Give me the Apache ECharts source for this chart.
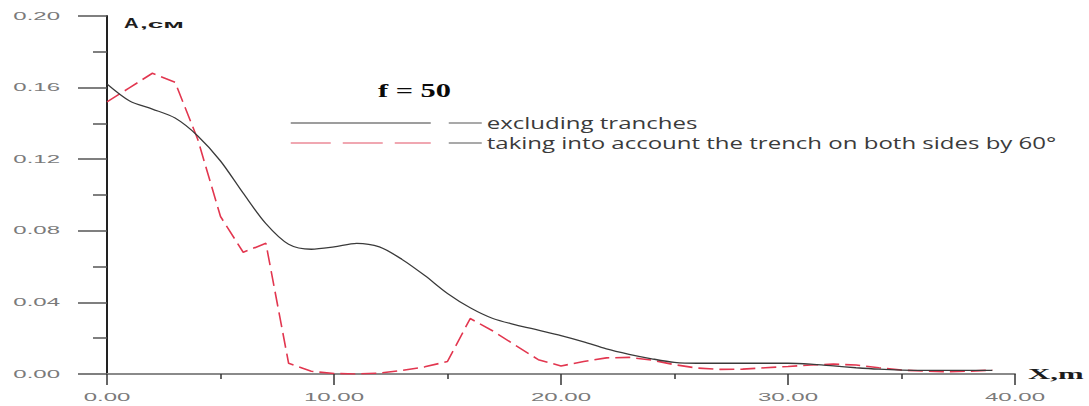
<!DOCTYPE html>
<html>
<head>
<meta charset="utf-8">
<title>f = 50</title>
<script src="https://cdn.jsdelivr.net/npm/echarts@6/dist/echarts.min.js"></script>
<style>
  html, body { margin: 0; padding: 0; background: #ffffff; }
  #chart { width: 1089px; height: 406px; }
</style>
</head>
<body>
<div id="chart"></div>
<script>
// Distance from the source, m
const xMeters = [0, 1, 2, 3, 4, 5, 6, 7, 8, 9,
                 10, 11, 12, 13, 14, 15, 16, 17, 18, 19,
                 20, 21, 22, 23, 24, 25, 26, 27, 28, 29,
                 30, 31, 32, 33, 34, 35, 36, 37, 38, 39];

// Vibration amplitude A, cm — without trenches
const ampNoTrench = [0.162, 0.1525, 0.148, 0.143, 0.133, 0.119, 0.101, 0.084, 0.0725, 0.0697,
                     0.071, 0.073, 0.071, 0.064, 0.055, 0.045, 0.037, 0.031, 0.0275, 0.0245,
                     0.0215, 0.018, 0.014, 0.011, 0.0085, 0.0065, 0.006, 0.006, 0.006, 0.006,
                     0.006, 0.0055, 0.0045, 0.0035, 0.0027, 0.0022, 0.002, 0.002, 0.002, 0.002];

// Vibration amplitude A, cm — trench on both sides, 60°
const ampTrench60 = [0.152, 0.160, 0.168, 0.163, 0.131, 0.088, 0.068, 0.073, 0.006, 0.0015,
                     0.0003, 0.0, 0.0005, 0.002, 0.004, 0.007, 0.031, 0.024, 0.016, 0.008,
                     0.0045, 0.007, 0.009, 0.0093, 0.0078, 0.0052, 0.0033, 0.0026, 0.0027, 0.0035,
                     0.0042, 0.005, 0.0055, 0.005, 0.0035, 0.0022, 0.0016, 0.0013, 0.0016, 0.0022];

const seriesNames = ['excluding tranches', 'taking into account the trench on both sides by 60°'];
const chartTitle = 'f = 50';
const yName = '{a|A}{b|,см}';
const xName = 'X,m';

// Horizontal widening of text glyphs, keyed by fill colour
const WIDEN = {
  'rgb(122, 122, 122)': 2.4,   // tick labels
  'rgb(59, 59, 59)': 1.5,      // legend text
  'rgb(10, 10, 10)': 1.6,      // title
  'rgb(30, 30, 30)': 1.35,     // "A"
  'rgb(29, 29, 29)': 2.8,      // ",см"
  'rgb(28, 28, 28)': 2.2       // "X,m"
};

function widenText() {
  document.querySelectorAll('#chart svg text').forEach(function (t) {
    if (t.hasAttribute('data-w')) return;
    const k = WIDEN[getComputedStyle(t).fill];
    if (!k || !t.textContent.trim()) return;
    const w = t.getComputedTextLength();
    t.setAttribute('data-w', w.toFixed(2));
    t.setAttribute('textLength', (w * k).toFixed(1));
    t.setAttribute('lengthAdjust', 'spacingAndGlyphs');
  });
}

const chart = echarts.init(document.getElementById('chart'), null, { renderer: 'svg' });

const tickLabel = {
  color: '#7a7a7a',
  fontFamily: 'Liberation Sans',
  fontSize: 10,
  formatter: function (v) { return v.toFixed(2); }
};

chart.setOption({
  animation: false,
  backgroundColor: '#ffffff',
  title: {
    text: chartTitle,
    left: 373,
    top: 76,
    textStyle: { fontFamily: 'Liberation Serif', fontWeight: 'bold', fontSize: 19, color: '#0a0a0a' }
  },
  legend: {
    orient: 'vertical',
    left: 290,
    top: 115,
    padding: 0,
    itemGap: 4,
    itemWidth: 140,
    itemHeight: 16,
    selectedMode: false,
    itemStyle: { opacity: 0 },
    data: [
      { name: seriesNames[0], lineStyle: { width: 1.3, color: '#7c7c7c' } },
      { name: seriesNames[1], lineStyle: { type: [40, 12], width: 1.5, color: '#ec8a98' } }
    ],
    formatter: function (name) { return '{g| }{bar| }{s| }{t|' + name + '}'; },
    textStyle: {
      rich: {
        g: { width: 13, color: 'rgba(0,0,0,0)', fontSize: 10 },
        bar: { width: 33, height: 1.5, backgroundColor: '#8c8c8c', color: 'rgba(0,0,0,0)', fontSize: 1 },
        s: { width: 5, color: 'rgba(0,0,0,0)', fontSize: 10 },
        t: { fontFamily: 'Open Sans', fontSize: 16, color: '#3b3b3b', lineHeight: 16 }
      }
    }
  },
  grid: {
    left: 107,
    right: 74,
    top: 16,
    bottom: 32,
    containLabel: false,
    outerBoundsMode: 'none'
  },
  xAxis: {
    type: 'value',
    min: 0,
    max: 40,
    interval: 10,
    name: xName,
    nameLocation: 'end',
    nameGap: 13,
    nameTextStyle: { fontFamily: 'Liberation Serif', fontWeight: 'bold', fontSize: 14, color: '#1c1c1c', verticalAlign: 'middle' },
    axisLine: { show: true, lineStyle: { color: '#8a8a8a', width: 2 } },
    axisTick: { show: true, inside: false, length: 11, lineStyle: { color: '#333333', width: 1.5 } },
    minorTick: { show: true, splitNumber: 2, length: 5, lineStyle: { color: '#333333', width: 1.5 } },
    splitLine: { show: false },
    minorSplitLine: { show: false },
    axisLabel: Object.assign({ margin: 18 }, tickLabel)
  },
  yAxis: {
    type: 'value',
    min: 0,
    max: 0.2,
    interval: 0.04,
    name: yName,
    nameLocation: 'end',
    nameGap: -6,
    nameTextStyle: {
      align: 'left',
      verticalAlign: 'middle',
      padding: [0, 0, 0, 17],
      rich: {
        a: { fontFamily: 'Liberation Sans', fontWeight: 'bold', fontSize: 15, color: '#1e1e1e', width: 16 },
        b: { fontFamily: 'Liberation Sans', fontWeight: 'bold', fontSize: 10, color: '#1d1d1d', verticalAlign: 'bottom', padding: [4, 0, 0, 0] }
      }
    },
    axisLine: { show: true, onZero: false, lineStyle: { color: '#222222', width: 2 } },
    axisTick: { show: true, inside: false, length: 29, lineStyle: { color: '#555555', width: 1.5 } },
    minorTick: { show: true, splitNumber: 2, length: 14, lineStyle: { color: '#555555', width: 1.5 } },
    splitLine: { show: false },
    minorSplitLine: { show: false },
    axisLabel: Object.assign({ margin: 47 }, tickLabel)
  },
  series: [
    {
      name: seriesNames[0],
      type: 'line',
      data: xMeters.map(function (x, i) { return [x, ampNoTrench[i]]; }),
      symbol: 'none',
      showSymbol: false,
      smooth: 0.3,
      lineStyle: { color: '#3a3a3a', width: 1.3 },
      itemStyle: { color: '#3a3a3a' },
      z: 3
    },
    {
      name: seriesNames[1],
      type: 'line',
      data: xMeters.map(function (x, i) { return [x, ampTrench60[i]]; }),
      symbol: 'none',
      showSymbol: false,
      lineStyle: { color: '#e2364f', width: 1.6, type: [15, 6] },
      itemStyle: { color: '#e2364f' },
      z: 2
    }
  ]
});

chart.getZr().refreshImmediately();
widenText();
chart.on('finished', widenText);
setTimeout(widenText, 30);
</script>
</body>
</html>
